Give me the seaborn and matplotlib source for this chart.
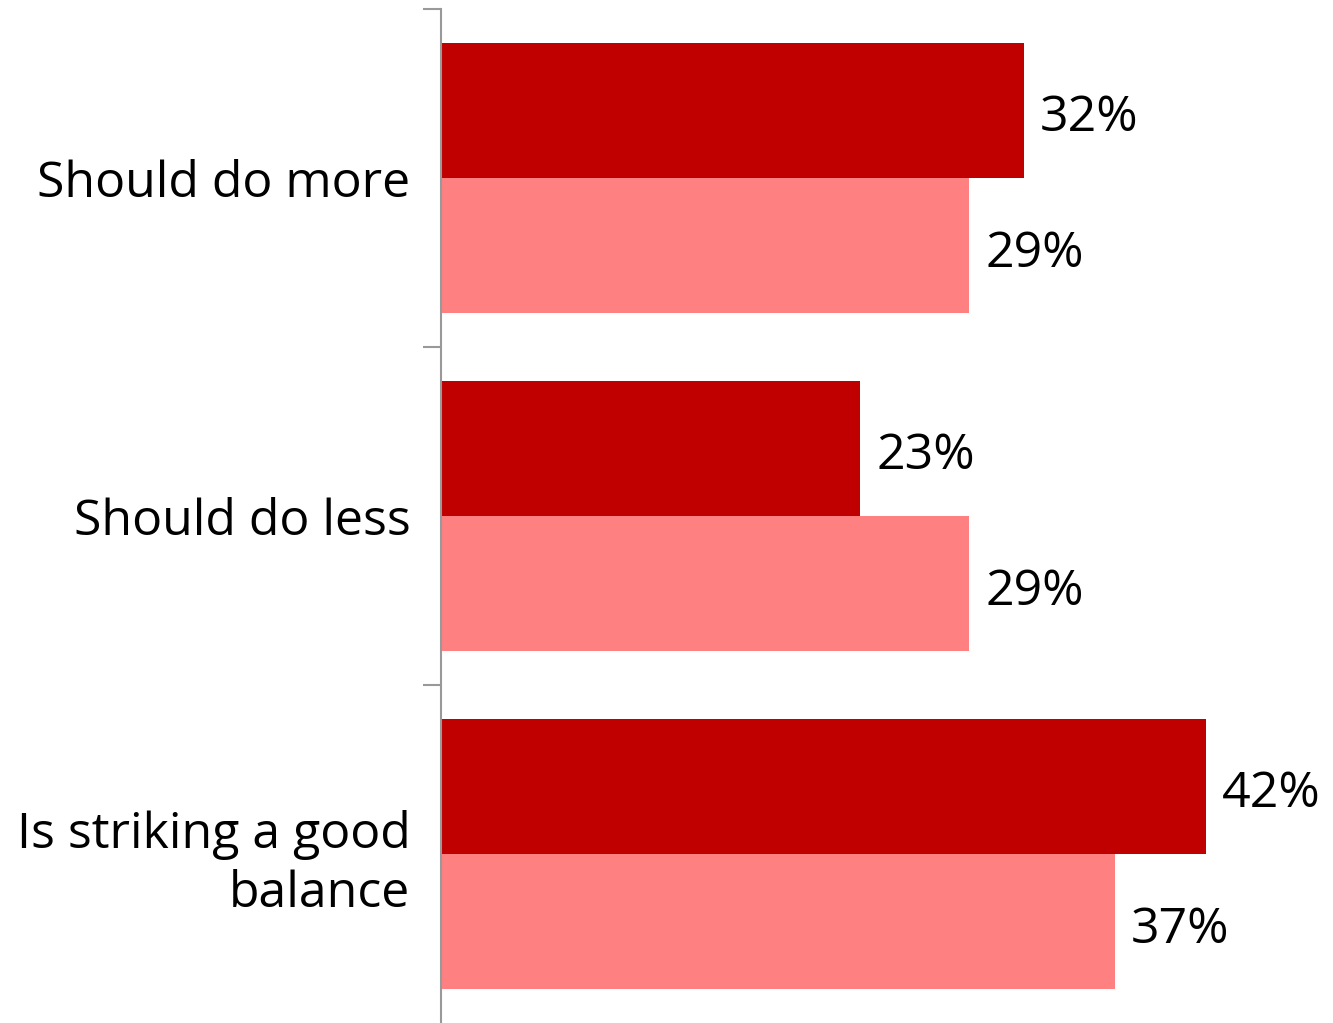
import numpy as np
import pandas as pd
import matplotlib
matplotlib.use("Agg")
import matplotlib.pyplot as plt
import seaborn as sns

categories = ["Should do more", "Should do less", "Is striking a good\nbalance"]
series_names = ["Series A", "Series B"]
values_a = [32, 23, 42]
values_b = [29, 29, 37]
colors = ["#C00000", "#FF8080"]

df = pd.DataFrame({
    "category": categories * 2,
    "series": [series_names[0]] * 3 + [series_names[1]] * 3,
    "value": values_a + values_b,
})

sns.set_style("white")
plt.rcParams["font.family"] = ["Open Sans", "DejaVu Sans"]

fig = plt.figure(figsize=(13.33, 10.23), dpi=100)
ax = fig.add_axes([0.3308, 0.0, 0.6692, 0.9912])

sns.barplot(data=df, x="value", y="category", hue="series", orient="h",
            palette=colors, width=0.8, saturation=1, legend=False,
            linewidth=0, ax=ax)

ax.set_xlim(0, 49)
ax.set_ylim(2.5, -0.5)
ax.set_xlabel("")
ax.set_ylabel("")
ax.set_xticks([])

# label each bar, nudged down a little like the original
for container in ax.containers:
    texts = ax.bar_label(container,
                         labels=[f"{v:.0f}%" for v in container.datavalues],
                         padding=12, fontsize=36, color="black")
    for t in texts:
        t.xyann = (12, -6)

# boundaries between categories as ticks
ax.set_yticks(np.arange(len(categories)))
ax.set_yticklabels(categories, fontsize=36, ha="right", color="black",
                   linespacing=1.25)
ax.tick_params(axis="y", which="major", left=False, length=0, pad=22)
ax.set_yticks(np.arange(-0.5, len(categories) - 1, 1.0), minor=True)
ax.tick_params(axis="y", which="minor", left=True, length=13, width=1.5,
               color="#999999", direction="out")

for side in ["top", "right", "bottom"]:
    ax.spines[side].set_visible(False)
ax.spines["left"].set_color("#999999")
ax.spines["left"].set_linewidth(1.5)

fig.savefig("out.png", dpi=100)
